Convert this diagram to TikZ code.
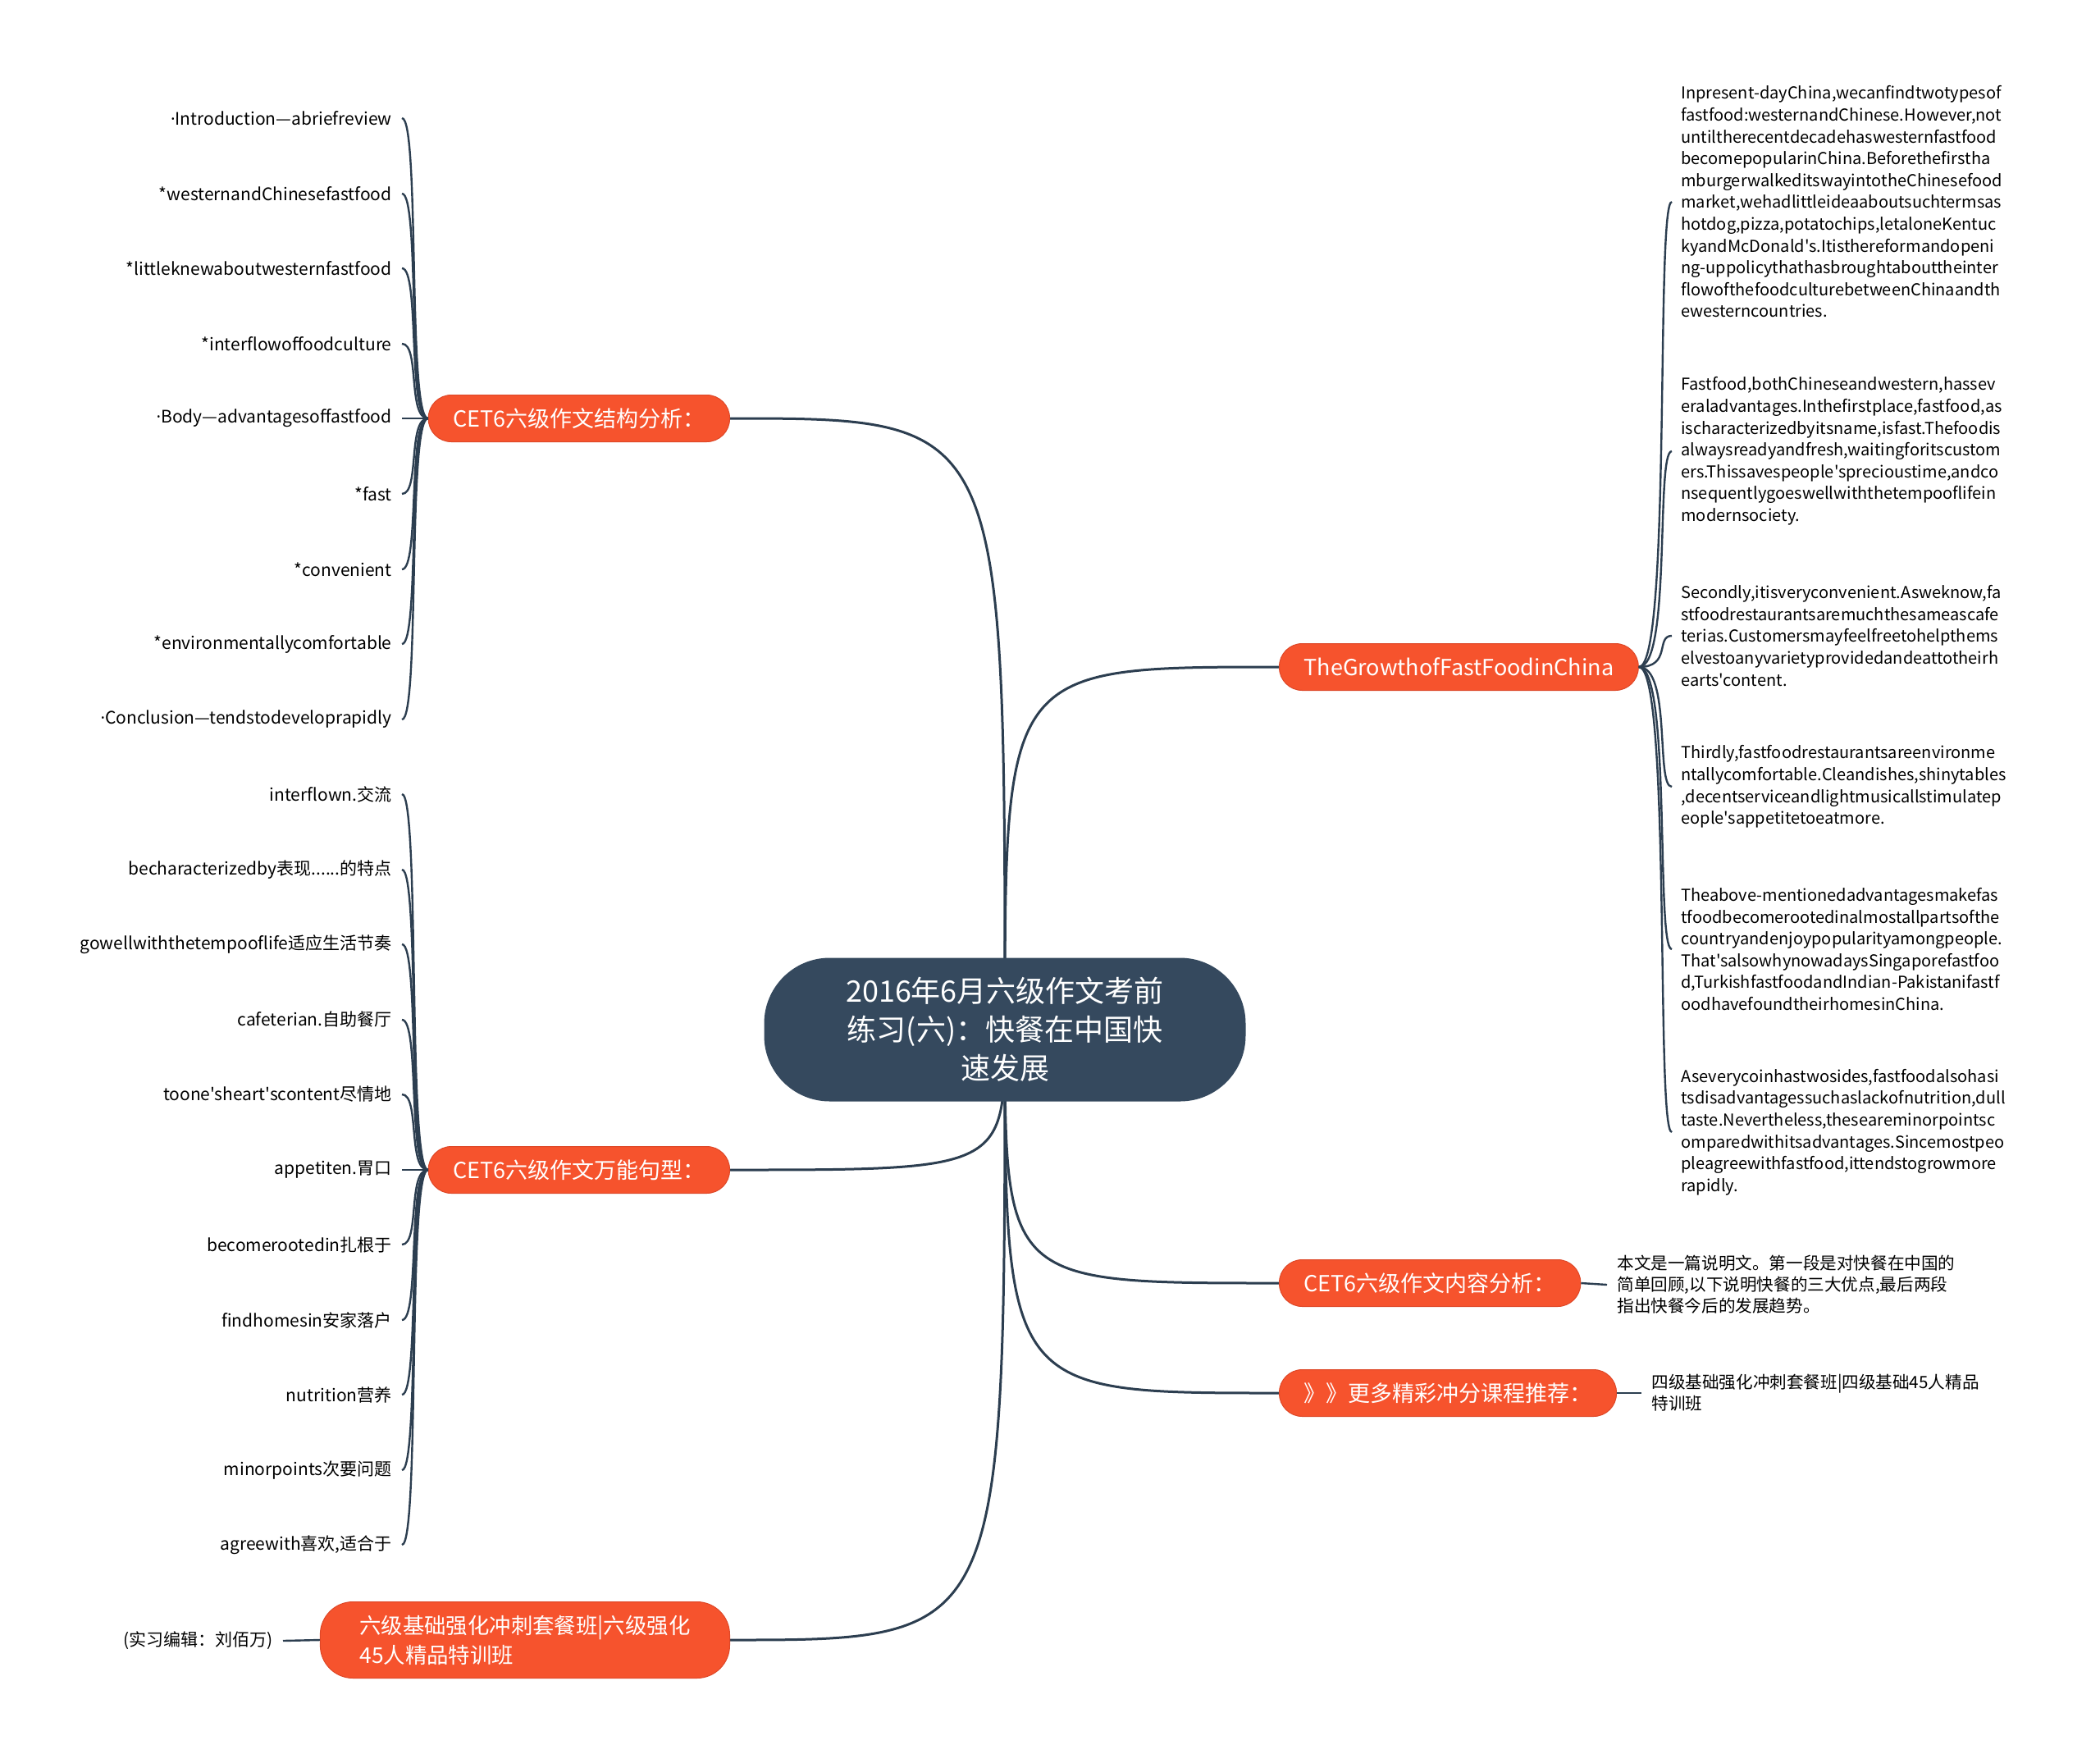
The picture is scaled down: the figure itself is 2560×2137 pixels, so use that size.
\documentclass[tikz,border=0pt]{standalone}
\usepackage{fontspec}
\setmainfont{Noto Sans CJK SC}[Ligatures=TeXOff]
\newfontfamily\dotfont{Open Sans}
\usetikzlibrary{backgrounds}
\definecolor{rootslate}{RGB}{53,73,94}
\definecolor{branchred}{RGB}{246,83,45}
\definecolor{branchedge}{RGB}{222,72,40}
\definecolor{linkslate}{RGB}{44,62,80}
\newcommand{\mdot}{{\dotfont ·}}

\begin{document}
\begin{tikzpicture}[x=0.5pt, y=-0.5pt,
    root/.style={fill=rootslate, text=white, rounded corners=40pt, minimum width=293.5pt,
        minimum height=87.5pt, align=center, font=\fontsize{18}{23.5}\selectfont},
    branch/.style={fill=branchred, draw=branchedge, line width=0.5pt, text=white,
        rounded corners=14pt, minimum height=28.5pt, inner xsep=15pt, font=\fontsize{13.5}{18}\selectfont},
    leaf/.style={inner xsep=6pt, inner ysep=2pt, font=\fontsize{10.5}{13}\selectfont},
    para/.style={inner xsep=5.5pt, align=left, font=\fontsize{10}{13.3}\selectfont},
    mainlink/.style={draw=linkslate, line width=1.5pt},
    leaflink/.style={draw=linkslate, line width=1.2pt}]
    \useasboundingbox (0,0) rectangle (2560,2137);

    % Central topic
    \node[root] (root) at (1225,1255) {2016年6月六级作文考前\\练习(六)：快餐在中国快\\速发展};

    % Main branches, left
    \node[branch, anchor=east] (struct) at (890,510) {CET6六级作文结构分析：};
    \node[branch, anchor=east] (sent) at (890,1426) {CET6六级作文万能句型：};
    \node[branch, anchor=east, align=left, rounded corners=20pt, minimum height=46.5pt,
        inner xsep=24pt, font=\fontsize{13.2}{18}\selectfont] (course) at (890,1999)
        {六级基础强化冲刺套餐班|六级强化\\45人精品特训班};

    % Main branches, right
    \node[branch, anchor=west] (growth) at (1559,813) {TheGrowthofFastFoodinChina};
    \node[branch, anchor=west] (content) at (1559,1564) {CET6六级作文内容分析：};
    \node[branch, anchor=west] (more) at (1559,1698) {》》更多精彩冲分课程推荐：};

    % Structure outline
    \node[leaf, anchor=east] (s1) at (490,144) {\mdot Introduction—abriefreview};
    \node[leaf, anchor=east] (s2) at (490,236) {*westernandChinesefastfood};
    \node[leaf, anchor=east] (s3) at (490,327) {*littleknewaboutwesternfastfood};
    \node[leaf, anchor=east] (s4) at (490,419) {*interflowoffoodculture};
    \node[leaf, anchor=east] (s5) at (490,510) {\mdot Body—advantagesoffastfood};
    \node[leaf, anchor=east] (s6) at (490,602) {*fast};
    \node[leaf, anchor=east] (s7) at (490,694) {*convenient};
    \node[leaf, anchor=east] (s8) at (490,785) {*environmentallycomfortable};
    \node[leaf, anchor=east] (s9) at (490,877) {\mdot Conclusion—tendstodeveloprapidly};

    % Useful phrases
    \node[leaf, anchor=east] (w1) at (490,968) {interflown.交流};
    \node[leaf, anchor=east] (w2) at (490,1060) {becharacterizedby表现......的特点};
    \node[leaf, anchor=east] (w3) at (490,1151) {gowellwiththetempooflife适应生活节奏};
    \node[leaf, anchor=east] (w4) at (490,1243) {cafeterian.自助餐厅};
    \node[leaf, anchor=east] (w5) at (490,1334) {toone'sheart'scontent尽情地};
    \node[leaf, anchor=east] (w6) at (490,1426) {appetiten.胃口};
    \node[leaf, anchor=east] (w7) at (490,1517) {becomerootedin扎根于};
    \node[leaf, anchor=east] (w8) at (490,1609) {findhomesin安家落户};
    \node[leaf, anchor=east] (w9) at (490,1700) {nutrition营养};
    \node[leaf, anchor=east] (w10) at (490,1792) {minorpoints次要问题};
    \node[leaf, anchor=east] (w11) at (490,1883) {agreewith喜欢,适合于};

    \node[leaf, anchor=east] (editor) at (345,2000) {(实习编辑：刘佰万)};

    % Essay paragraphs
    \node[para, anchor=west] (p1) at (2038,246) {Inpresent-dayChina,wecanfindtwotypesof\\
        fastfood:westernandChinese.However,not\\untiltherecentdecadehaswesternfastfood\\
        becomepopularinChina.Beforethefirstha\\mburgerwalkeditswayintotheChinesefood\\
        market,wehadlittleideaaboutsuchtermsas\\hotdog,pizza,potatochips,letaloneKentuc\\
        kyandMcDonald's.Itisthereformandopeni\\ng-uppolicythathasbroughtabouttheinter\\
        flowofthefoodculturebetweenChinaandth\\ewesterncountries.};
    \node[para, anchor=west] (p2) at (2038,550) {Fastfood,bothChineseandwestern,hassev\\
        eraladvantages.Inthefirstplace,fastfood,as\\ischaracterizedbyitsname,isfast.Thefoodis\\
        alwaysreadyandfresh,waitingforitscustom\\ers.Thissavespeople'sprecioustime,andco\\
        nsequentlygoeswellwiththetempooflifein\\modernsociety.};
    \node[para, anchor=west] (p3) at (2038,775) {Secondly,itisveryconvenient.Asweknow,fa\\
        stfoodrestaurantsaremuchthesameascafe\\terias.Customersmayfeelfreetohelpthems\\
        elvestoanyvarietyprovidedandeattotheirh\\earts'content.};
    \node[para, anchor=west] (p4) at (2038,959) {Thirdly,fastfoodrestaurantsareenvironme\\
        ntallycomfortable.Cleandishes,shinytables\\,decentserviceandlightmusicallstimulatep\\
        eople'sappetitetoeatmore.};
    \node[para, anchor=west] (p5) at (2038,1157) {Theabove-mentionedadvantagesmakefas\\
        tfoodbecomerootedinalmostallpartsofthe\\countryandenjoypopularityamongpeople.\\
        That'salsowhynowadaysSingaporefastfoo\\d,TurkishfastfoodandIndian-Pakistanifastf\\
        oodhavefoundtheirhomesinChina.};
    \node[para, anchor=west] (p6) at (2038,1380) {Aseverycoinhastwosides,fastfoodalsohasi\\
        tsdisadvantagessuchaslackofnutrition,dull\\taste.Nevertheless,thesearеminorpointsc\\
        omparedwithitsadvantages.Sincemostpeo\\pleagreewithfastfood,ittendstogrowmore\\
        rapidly.};

    % Summary and course texts
    \node[para, anchor=west, inner xsep=6pt, font=\fontsize{10.3}{13}\selectfont] (sumtxt) at (1959,1566)
        {本文是一篇说明文。第一段是对快餐在中国的\\简单回顾,以下说明快餐的三大优点,最后两段\\指出快餐今后的发展趋势。};
    \node[para, anchor=west, inner xsep=6pt, font=\fontsize{10.3}{13}\selectfont] (moretxt) at (2001,1698)
        {四级基础强化冲刺套餐班|四级基础45人精品\\特训班};

    \begin{pgfonlayer}{background}
        % Root to branches
        \draw[mainlink] (root.center) .. controls (root.center |- struct.east) .. (struct.east);
        \draw[mainlink] (root.center) .. controls (root.center |- sent.east) .. (sent.east);
        \draw[mainlink] (root.center) .. controls (root.center |- course.east) .. (course.east);
        \draw[mainlink] (root.center) .. controls (root.center |- growth.west) .. (growth.west);
        \draw[mainlink] (root.center) .. controls (root.center |- content.west) .. (content.west);
        \draw[mainlink] (root.center) .. controls (root.center |- more.west) .. (more.west);
    \end{pgfonlayer}

    % Brackets on the left
    \draw[leaflink] (struct.west) .. controls +(-25,0) and +(22,0) .. (s1.east);
    \draw[leaflink] (struct.west) .. controls +(-25,0) and +(22,0) .. (s2.east);
    \draw[leaflink] (struct.west) .. controls +(-25,0) and +(22,0) .. (s3.east);
    \draw[leaflink] (struct.west) .. controls +(-25,0) and +(22,0) .. (s4.east);
    \draw[leaflink] (struct.west) -- (s5.east);
    \draw[leaflink] (struct.west) .. controls +(-25,0) and +(22,0) .. (s6.east);
    \draw[leaflink] (struct.west) .. controls +(-25,0) and +(22,0) .. (s7.east);
    \draw[leaflink] (struct.west) .. controls +(-25,0) and +(22,0) .. (s8.east);
    \draw[leaflink] (struct.west) .. controls +(-25,0) and +(22,0) .. (s9.east);

    \draw[leaflink] (sent.west) .. controls +(-25,0) and +(22,0) .. (w1.east);
    \draw[leaflink] (sent.west) .. controls +(-25,0) and +(22,0) .. (w2.east);
    \draw[leaflink] (sent.west) .. controls +(-25,0) and +(22,0) .. (w3.east);
    \draw[leaflink] (sent.west) .. controls +(-25,0) and +(22,0) .. (w4.east);
    \draw[leaflink] (sent.west) .. controls +(-25,0) and +(22,0) .. (w5.east);
    \draw[leaflink] (sent.west) -- (w6.east);
    \draw[leaflink] (sent.west) .. controls +(-25,0) and +(22,0) .. (w7.east);
    \draw[leaflink] (sent.west) .. controls +(-25,0) and +(22,0) .. (w8.east);
    \draw[leaflink] (sent.west) .. controls +(-25,0) and +(22,0) .. (w9.east);
    \draw[leaflink] (sent.west) .. controls +(-25,0) and +(22,0) .. (w10.east);
    \draw[leaflink] (sent.west) .. controls +(-25,0) and +(22,0) .. (w11.east);

    \draw[leaflink] (course.west) -- (editor.east);

    % Brackets on the right
    \draw[leaflink] (growth.east) .. controls +(40,0) and +(-20,0) .. (p1.west);
    \draw[leaflink] (growth.east) .. controls +(40,0) and +(-20,0) .. (p2.west);
    \draw[leaflink] (growth.east) .. controls +(40,0) and +(-20,0) .. (p3.west);
    \draw[leaflink] (growth.east) .. controls +(40,0) and +(-20,0) .. (p4.west);
    \draw[leaflink] (growth.east) .. controls +(40,0) and +(-20,0) .. (p5.west);
    \draw[leaflink] (growth.east) .. controls +(40,0) and +(-20,0) .. (p6.west);

    \draw[leaflink] (content.east) -- (sumtxt.west);
    \draw[leaflink] (more.east) -- (moretxt.west);
\end{tikzpicture}
\end{document}
